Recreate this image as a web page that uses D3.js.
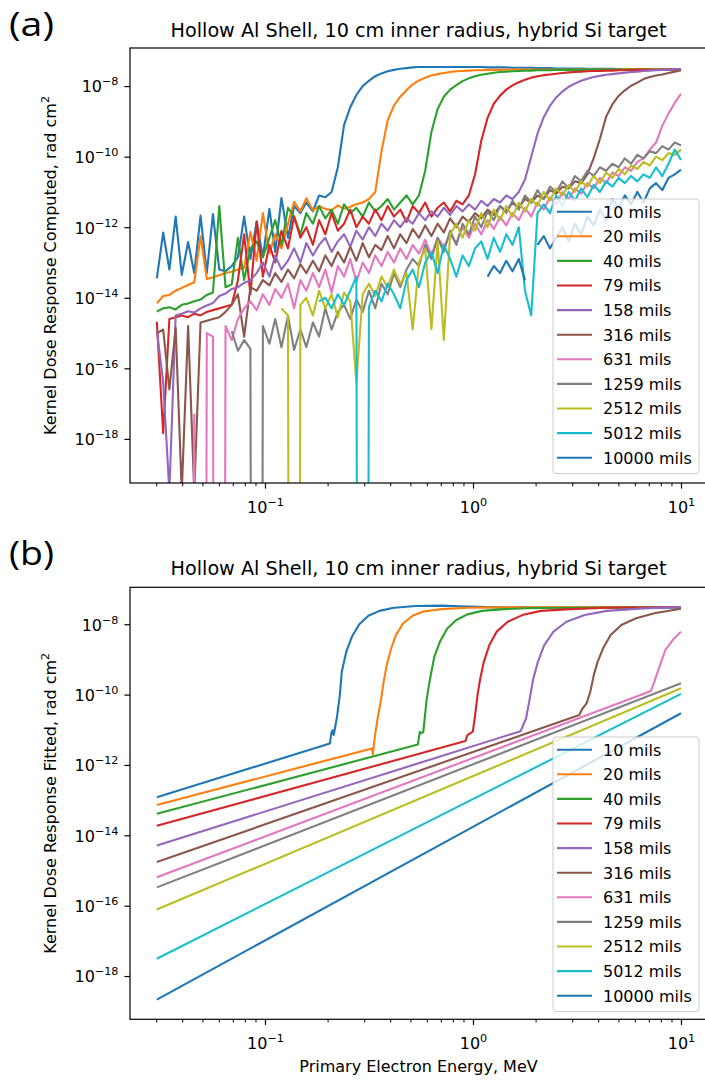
<!DOCTYPE html>
<html><head><meta charset="utf-8">
<script src="https://cdn.jsdelivr.net/npm/d3@7"></script>
<style>
body{margin:0;background:#fff}
text{font-family:"DejaVu Sans",sans-serif;fill:#000}
</style></head>
<body><svg id="c" width="705" height="1080"></svg>
<script>
// ---------------- DATA ----------------
const seriesLabels = ["10 mils","20 mils","40 mils","79 mils","158 mils","316 mils","631 mils","1259 mils","2512 mils","5012 mils","10000 mils"];

// primary electron energies (MeV) of the computed samples
const energyGrid = [
 0.0302,0.0324,0.0347,0.0372,0.0398,0.0427,0.0457,0.0490,0.0525,0.0562,
 0.0603,0.0646,0.0692,0.0741,0.0794,0.0851,0.0912,0.0977,0.105,0.112,
 0.120,0.129,0.138,0.148,0.158,0.170,0.182,0.195,0.209,0.224,
 0.240,0.257,0.275,0.295,0.316,0.339,0.363,0.389,0.417,0.447,
 0.479,0.513,0.550,0.589,0.631,0.676,0.724,0.776,0.832,0.891,
 0.955,1.023,1.096,1.175,1.259,1.349,1.445,1.549,1.660,1.778,
 1.905,2.042,2.188,2.344,2.512,2.692,2.884,3.090,3.311,3.548,
 3.802,4.074,4.365,4.677,5.012,5.370,5.754,6.166,6.607,7.079,
 7.586,8.128,8.710,9.333,10.0];

// computed kernel dose response, stored as log10(rad cm^2); -99 = non-positive sample, null = missing
const comp10 = [
 -13.45,-12.15,-13.2,-11.7,-13.35,-12.42,-13.3,-11.67,-13.3,-11.63,
 -13.2,-13.25,-13.1,-12.85,-11.7,-12.9,-11.84,-12.85,-11.48,-12.7,
 -11.17,-12.3,-11.4,-11.6,-11.3,-11.55,-11.1,-11.15,-11.0,-10.3,
 -9.1,-8.6,-8.25,-8.0,-7.85,-7.72,-7.64,-7.58,-7.54,-7.51,
 -7.49,-7.47,-7.46,-7.46,-7.46,-7.46,-7.46,-7.46,-7.46,-7.46,
 -7.46,-7.46,-7.46,-7.47,-7.47,-7.47,-7.47,-7.48,-7.48,-7.48,
 -7.48,-7.49,-7.49,-7.49,-7.5,-7.5,-7.5,-7.5,-7.5,-7.51,
 -7.51,-7.51,-7.51,-7.51,-7.52,-7.52,-7.52,-7.52,-7.52,-7.52,
 -7.53,-7.53,-7.53,-7.53,-7.53];
const comp20 = [
 -14.16,-13.95,-13.92,-13.8,-13.72,-13.64,-13.56,-12.25,-13.47,-13.42,
 -13.36,-13.3,-13.26,-13.2,-13.15,-12.13,-12.95,-11.6,-12.75,-12.2,
 -12.6,-11.9,-11.28,-11.55,-11.18,-11.52,-11.4,-11.48,-11.52,-11.38,
 -11.48,-11.42,-11.35,-11.3,-11.2,-11.0,-9.85,-8.97,-8.55,-8.3,
 -8.12,-7.95,-7.84,-7.76,-7.7,-7.66,-7.63,-7.6,-7.58,-7.57,
 -7.56,-7.55,-7.55,-7.54,-7.54,-7.54,-7.53,-7.53,-7.53,-7.53,
 -7.53,-7.53,-7.53,-7.53,-7.53,-7.53,-7.53,-7.53,-7.53,-7.53,
 -7.53,-7.53,-7.53,-7.53,-7.53,-7.52,-7.52,-7.52,-7.52,-7.52,
 -7.52,-7.52,-7.52,-7.52,-7.52];
const comp40 = [
 -14.39,-14.3,-14.27,-14.33,-14.2,-14.16,-14.1,-14.05,-13.92,-13.85,
 -11.4,-13.7,-13.62,-12.3,-13.5,-12.6,-12.4,-12.85,-12.3,-11.8,
 -12.5,-11.45,-11.7,-12.2,-11.6,-11.9,-11.4,-11.75,-11.5,-11.9,
 -11.35,-11.6,-11.45,-11.7,-11.3,-11.55,-11.4,-11.2,-11.5,-11.3,
 -11.1,-11.35,-11.1,-10.4,-9.3,-8.65,-8.3,-8.1,-7.97,-7.86,
 -7.78,-7.72,-7.68,-7.65,-7.62,-7.6,-7.59,-7.58,-7.57,-7.56,
 -7.56,-7.55,-7.55,-7.55,-7.54,-7.54,-7.54,-7.54,-7.54,-7.54,
 -7.53,-7.53,-7.53,-7.53,-7.53,-7.53,-7.53,-7.53,-7.53,-7.53,
 -7.53,-7.53,-7.53,-7.53,-7.53];
const comp79 = [
 -14.68,-17.84,-14.6,-14.55,-14.5,-14.55,-14.45,-14.5,-14.4,-14.35,
 -14.3,-14.25,-14.2,-13.5,-12.2,-13.9,-11.84,-13.4,-12.5,-13.0,
 -12.1,-12.6,-11.7,-12.3,-12.0,-12.5,-11.8,-12.2,-11.6,-12.1,
 -11.9,-11.5,-12.0,-11.7,-11.9,-11.5,-11.8,-11.4,-11.7,-11.5,
 -11.85,-11.4,-11.6,-11.3,-11.7,-11.45,-11.3,-11.55,-11.25,-11.35,
 -11.1,-10.5,-9.55,-8.9,-8.5,-8.27,-8.1,-7.98,-7.89,-7.82,
 -7.76,-7.72,-7.69,-7.67,-7.65,-7.63,-7.61,-7.6,-7.59,-7.58,
 -7.57,-7.57,-7.56,-7.56,-7.55,-7.55,-7.55,-7.54,-7.54,-7.54,
 -7.54,-7.53,-7.53,-7.53,-7.53];
const comp158 = [
 -14.91,-16.4,-19.5,-14.5,-14.45,-14.38,-14.42,-14.3,-14.22,-14.15,
 -13.95,-13.88,-13.75,-13.7,-13.58,-13.5,-13.3,-13.0,-13.4,-12.8,
 -13.2,-12.95,-12.6,-13.0,-12.45,-12.8,-12.5,-12.3,-12.7,-12.4,
 -12.2,-12.55,-12.1,-12.35,-12.0,-12.25,-11.9,-12.1,-11.8,-12.0,
 -11.75,-11.9,-11.6,-11.8,-11.55,-11.7,-11.45,-11.65,-11.4,-11.55,
 -11.35,-11.5,-11.25,-11.4,-11.2,-11.3,-11.1,-11.2,-11.0,-10.65,
 -10.0,-9.35,-8.88,-8.56,-8.32,-8.15,-8.02,-7.93,-7.85,-7.79,
 -7.74,-7.71,-7.68,-7.66,-7.64,-7.62,-7.6,-7.59,-7.57,-7.56,
 -7.55,-7.54,-7.53,-7.52,-7.52];
const comp316 = [
 -15.0,-14.9,-16.6,-14.85,-19.5,-14.8,-19.5,-14.7,-14.65,-14.6,
 -14.55,-14.4,-14.2,-13.9,-15.1,-13.7,-13.8,-13.5,-13.65,-13.3,
 -13.55,-13.2,-13.45,-13.05,-13.3,-12.95,-13.25,-12.8,-13.1,-12.7,
 -13.0,-12.55,-12.95,-12.45,-12.85,-12.5,-12.65,-12.25,-12.6,-12.2,
 -12.45,-12.05,-12.3,-11.95,-12.25,-11.9,-12.15,-11.75,-12.0,-11.7,
 -11.85,-11.6,-11.75,-11.5,-11.65,-11.4,-11.55,-11.3,-11.45,-11.2,
 -11.3,-11.1,-11.2,-10.95,-11.05,-10.85,-10.9,-10.7,-10.75,-10.5,
 -10.05,-9.5,-8.87,-8.52,-8.28,-8.12,-7.99,-7.9,-7.8,-7.74,
 -7.7,-7.67,-7.63,-7.59,-7.55];
const comp631 = [
 -99,-99,-99,-99,-99,-99,-17.3,-99,-15.0,-15.1,
 -99,-14.8,-15.2,-14.6,-14.3,-14.1,-14.35,-13.9,-14.2,-13.75,
 -14.0,-13.6,-14.3,-13.5,-13.8,-13.3,-13.7,-13.2,-13.85,-13.1,
 -13.4,-12.9,-13.55,-13.0,-13.3,-12.8,-13.1,-12.7,-13.0,-12.6,
 -12.9,-12.5,-12.75,-12.35,-12.8,-12.3,-12.55,-12.2,-12.45,-12.0,
 -12.3,-11.9,-12.2,-11.8,-12.05,-11.7,-11.95,-11.6,-11.8,-11.45,
 -11.7,-11.3,-11.5,-11.15,-11.35,-11.0,-11.2,-10.9,-11.05,-10.75,
 -10.9,-10.6,-10.75,-10.45,-10.55,-10.3,-10.4,-10.15,-10.05,-9.8,
 -9.6,-9.12,-8.78,-8.47,-8.22];
const comp1259 = [
 null,null,null,null,null,null,null,null,null,null,
 null,null,-14.95,-15.5,-15.2,-15.45,-99,-14.8,-15.3,-14.6,
 -15.4,-14.5,-15.48,-14.9,-15.4,-14.7,-15.1,-14.3,-14.9,-14.4,
 -14.2,-14.6,-14.05,-14.4,-13.8,-14.3,-13.6,-13.9,-13.3,-13.7,
 -13.2,-12.9,-13.1,-12.5,-12.9,-12.3,-12.7,-12.1,-12.5,-11.9,
 -12.2,-11.7,-12.0,-11.55,-11.8,-11.4,-11.6,-11.25,-11.5,-11.1,
 -11.3,-10.95,-11.2,-10.85,-11.0,-10.7,-10.9,-10.55,-10.7,-10.4,
 -10.55,-10.3,-10.4,-10.2,-10.3,-10.05,-10.2,-9.95,-10.05,-9.85,
 -9.9,-9.7,-9.8,-9.6,-9.68];
const comp2512 = [
 null,null,null,null,null,null,null,null,null,null,
 null,null,null,null,null,null,null,null,null,null,
 -14.3,-14.5,-99,-14.2,-14.0,-14.5,-13.8,-14.3,-13.9,-14.55,
 -13.85,-14.1,-16.4,-13.9,-13.6,-13.95,-13.4,-13.7,-13.2,-13.6,
 -13.3,-14.9,-13.0,-12.6,-14.9,-12.4,-15.2,-12.2,-11.9,-12.3,
 -11.8,-12.1,-11.6,-12.0,-11.5,-11.8,-11.4,-11.7,-11.3,-11.55,
 -11.2,-11.4,-11.0,-11.25,-10.9,-11.1,-10.8,-11.0,-10.7,-10.85,
 -10.55,-10.75,-10.45,-10.6,-10.35,-10.5,-10.25,-10.35,-10.15,-10.25,
 -10.0,-10.1,-9.9,-9.95,-9.8];
const comp5012 = [
 null,null,null,null,null,null,null,null,null,null,
 null,null,null,null,null,null,null,null,null,null,
 null,null,null,null,null,null,-14.1,-14.0,-14.3,-13.9,
 -14.2,-13.8,-13.4,-99,-14.26,-13.8,-14.1,-13.6,-13.9,-14.3,
 -13.5,-13.2,-13.7,-13.0,-12.7,-13.3,-12.5,-12.9,-13.4,-12.8,
 -13.1,-12.6,-12.4,-12.9,-12.3,-12.7,-12.2,-12.5,-12.0,-13.8,
 -14.5,-11.6,-11.35,-11.6,-11.1,-11.4,-11.0,-11.25,-10.9,-11.15,
 -10.8,-11.0,-10.7,-10.85,-10.6,-10.75,-10.55,-10.7,-10.5,-10.6,
 -10.3,-10.55,-10.2,-9.8,-10.09];
const comp10000 = [
 null,null,null,null,null,null,null,null,null,null,
 null,null,null,null,null,null,null,null,null,null,
 null,null,null,null,null,null,null,null,null,null,
 null,null,null,null,null,null,null,null,null,null,
 null,null,null,null,null,null,null,null,null,null,
 null,null,null,-13.4,-13.1,-13.3,-12.95,-13.25,-12.9,-13.5,
 null,-12.5,-12.25,-12.6,-12.3,-12.0,-12.4,-11.9,-12.2,-11.7,
 -11.95,-11.5,-11.8,-11.2,-11.45,-11.1,-11.35,-11.0,-11.3,-10.9,
 -10.75,-10.95,-10.6,-10.5,-10.37];

// fitted kernel dose response: [energy MeV, log10(rad cm^2)]
const fit10 = [[0.0302,-12.92],[0.205,-11.39],[0.209,-11.06],[0.212,-11.01],[0.214,-11.15],[0.222,-10.63],[0.229,-10.01],[0.234,-9.35],[0.246,-8.78],[0.262,-8.35],[0.284,-8.0],[0.314,-7.76],[0.355,-7.62],[0.417,-7.53],[0.532,-7.48],[0.708,-7.47],[0.867,-7.49],[1.30,-7.52],[3.0,-7.53],[10,-7.53]];
const fit20 = [[0.0302,-13.14],[0.327,-11.53],[0.330,-11.7],[0.338,-11.15],[0.348,-10.68],[0.362,-10.11],[0.372,-9.63],[0.385,-9.16],[0.404,-8.69],[0.426,-8.31],[0.461,-7.98],[0.512,-7.76],[0.577,-7.64],[0.708,-7.57],[0.940,-7.53],[1.30,-7.52],[10,-7.51]];
const fit40 = [[0.0302,-13.39],[0.543,-11.42],[0.555,-11.06],[0.566,-11.1],[0.577,-11.06],[0.597,-10.2],[0.614,-9.73],[0.631,-9.35],[0.652,-8.92],[0.693,-8.5],[0.752,-8.12],[0.832,-7.88],[0.940,-7.72],[1.104,-7.62],[1.409,-7.57],[1.95,-7.54],[10,-7.51]];
const fit79 = [[0.0302,-13.73],[0.920,-11.32],[0.940,-11.15],[0.998,-11.05],[1.019,-10.68],[1.052,-10.01],[1.084,-9.54],[1.127,-9.07],[1.199,-8.59],[1.30,-8.21],[1.469,-7.93],[1.726,-7.74],[2.118,-7.62],[2.931,-7.57],[4.395,-7.53],[10,-7.51]];
const fit158 = [[0.0302,-14.29],[1.694,-11.04],[1.799,-10.68],[1.875,-10.11],[1.95,-9.54],[2.051,-9.07],[2.203,-8.59],[2.438,-8.21],[2.812,-7.93],[3.443,-7.74],[4.395,-7.62],[6.592,-7.55],[10,-7.51]];
const fit316 = [[0.0302,-14.76],[3.243,-10.58],[3.334,-10.43],[3.516,-10.25],[3.664,-9.92],[3.811,-9.44],[3.972,-9.07],[4.217,-8.69],[4.581,-8.31],[5.164,-8.02],[6.081,-7.83],[7.447,-7.69],[10,-7.56]];
const fit631 = [[0.0302,-15.19],[6.871,-9.94],[7.161,-9.9],[7.447,-9.63],[7.925,-9.16],[8.414,-8.73],[9.12,-8.45],[10,-8.21]];
const fit1259 = [[0.0302,-15.48],[10,-9.68]];
const fit2512 = [[0.0302,-16.11],[10,-9.82]];
const fit5012 = [[0.0302,-17.51],[10,-9.98]];
const fit10000 = [[0.0302,-18.67],[10,-10.53]];

const xMajorTicks = [0.1, 1, 10];
const xMajorExp = ["−1","0","1"];
const yMajorTicks = [1e-8,1e-10,1e-12,1e-14,1e-16,1e-18];
const yMajorExp = ["−8","−10","−12","−14","−16","−18"];

// ---------------- DRAWING ----------------
const palette = ["#1f77b4","#ff7f0e","#2ca02c","#d62728","#9467bd","#8c564b","#e377c2","#7f7f7f","#bcbd22","#17becf","#1f77b4"];
const computedSeries = [comp10,comp20,comp40,comp79,comp158,comp316,comp631,comp1259,comp2512,comp5012,comp10000]
  .map(arr => arr.map((v,i) => [energyGrid[i], v]));
const fittedSeries = [fit10,fit20,fit40,fit79,fit158,fit316,fit631,fit1259,fit2512,fit5012,fit10000];

const svg = d3.select("#c");
const L = 130, R = 707;
const xDomain = [Math.pow(10,-1.649), Math.pow(10,1.125)];

const panels = [
  {id:"a", top:48, bottom:483, yDom:[-19.25,-6.92], titleY:37, tag:"(a)", tagY:36,
   ylabel:"Kernel Dose Response Computed, rad cm", legendTop:199, data:computedSeries, xlabel:false},
  {id:"b", top:587.3, bottom:1019.3, yDom:[-19.23,-6.95], titleY:575, tag:"(b)", tagY:565,
   ylabel:"Kernel Dose Response Fitted, rad cm", legendTop:737, data:fittedSeries, xlabel:true}
];

const minorX = [];
[-2,-1,0,1].forEach(d => { for (let m=2;m<=9;m++){ const v=m*Math.pow(10,d); if (v>xDomain[0] && v<xDomain[1]) minorX.push(v);} });

panels.forEach(p => {
  const g = svg.append("g");
  const x = d3.scaleLog().domain(xDomain).range([L,R]);
  const y = d3.scaleLog().domain([Math.pow(10,p.yDom[0]), Math.pow(10,p.yDom[1])]).range([p.bottom,p.top]);

  const clipId = "clip-"+p.id;
  svg.append("clipPath").attr("id",clipId).append("rect")
    .attr("x",L).attr("y",p.top).attr("width",R-L).attr("height",p.bottom-p.top);

  const line = d3.line()
    .defined(d => d[1] !== null && d[1] !== undefined)
    .x(d => x(d[0]))
    .y(d => y(Math.pow(10, d[1])));

  const lg = g.append("g").attr("clip-path",`url(#${clipId})`);
  p.data.forEach((pts,i) => {
    lg.append("path").datum(pts)
      .attr("fill","none").attr("stroke",palette[i]).attr("stroke-width",2.1)
      .attr("stroke-linejoin","round").attr("stroke-linecap","butt")
      .attr("d",line);
  });

  // x axis
  const xAxis = d3.axisBottom(x).tickValues(xMajorTicks).tickSize(5.6).tickSizeOuter(0).tickFormat(()=> "");
  const xa = g.append("g").attr("transform",`translate(0,${p.bottom})`).call(xAxis);
  xa.select(".domain").remove();
  xa.selectAll(".tick line").attr("stroke","#000").attr("stroke-width",1.2);
  xa.selectAll(".tick").each(function(d,i){
    const t = d3.select(this).append("text").attr("y",30).attr("text-anchor","middle")
      .attr("font-size",16).attr("fill","#000");
    t.append("tspan").text("10");
    t.append("tspan").attr("dy",-7).attr("font-size",11.2).text(xMajorExp[i]);
  });
  const xm = g.append("g").attr("transform",`translate(0,${p.bottom})`)
    .call(d3.axisBottom(x).tickValues(minorX).tickSize(3.2).tickSizeOuter(0).tickFormat(()=> ""));
  xm.select(".domain").remove();
  xm.selectAll(".tick line").attr("stroke","#000").attr("stroke-width",1);

  // y axis
  const yAxis = d3.axisLeft(y).tickValues(yMajorTicks).tickSize(5.6).tickSizeOuter(0).tickFormat(()=> "");
  const ya = g.append("g").attr("transform",`translate(${L},0)`).call(yAxis);
  ya.select(".domain").remove();
  ya.selectAll(".tick line").attr("stroke","#000").attr("stroke-width",1.2);
  ya.selectAll(".tick").each(function(d,i){
    const t = d3.select(this).append("text").attr("x",-11.5).attr("y",5.8).attr("text-anchor","end")
      .attr("font-size",16).attr("fill","#000");
    t.append("tspan").text("10");
    t.append("tspan").attr("dy",-7).attr("font-size",11.2).text(yMajorExp[i]);
  });

  // spines
  g.append("rect").attr("x",L).attr("y",p.top).attr("width",R-L).attr("height",p.bottom-p.top)
    .attr("fill","none").attr("stroke","#000").attr("stroke-width",1.2);

  // title
  g.append("text").attr("x",(L+R)/2).attr("y",p.titleY).attr("text-anchor","middle")
    .attr("font-size",19.2).text("Hollow Al Shell, 10 cm inner radius, hybrid Si target");

  // panel tag
  g.append("text").attr("x",9).attr("y",p.tagY).attr("font-size",32)
    .attr("textLength",45).attr("lengthAdjust","spacingAndGlyphs")
    .style("font-family","'Open Sans',sans-serif").text(p.tag);

  // y label
  const cy = (p.top+p.bottom)/2;
  const yl = g.append("text").attr("transform",`translate(56,${cy}) rotate(-90)`)
    .attr("text-anchor","middle").attr("font-size",16);
  yl.append("tspan").text(p.ylabel);
  yl.append("tspan").attr("dy",-7).attr("font-size",11.2).text("2");

  if (p.xlabel) {
    g.append("text").attr("x",(L+R)/2).attr("y",p.bottom+52.5).attr("text-anchor","middle")
      .attr("font-size",16).text("Primary Electron Energy, MeV");
  }

  // legend
  const lx = 553, lw = 146, rowH = 24.6, lt = p.legendTop;
  const lh = rowH*seriesLabels.length + 4;
  const leg = g.append("g");
  leg.append("rect").attr("x",lx).attr("y",lt).attr("width",lw).attr("height",lh).attr("rx",3)
    .attr("fill","#fff").attr("fill-opacity",0.8).attr("stroke","#cccccc").attr("stroke-width",1);
  seriesLabels.forEach((lab,i) => {
    const cyR = lt + 12.7 + i*rowH;
    leg.append("line").attr("x1",lx+4).attr("x2",lx+39).attr("y1",cyR).attr("y2",cyR)
      .attr("stroke",palette[i]).attr("stroke-width",2.1);
    leg.append("text").attr("x",lx+50).attr("y",cyR+5.8).attr("font-size",16).text(lab);
  });
});
</script>
</body></html>
